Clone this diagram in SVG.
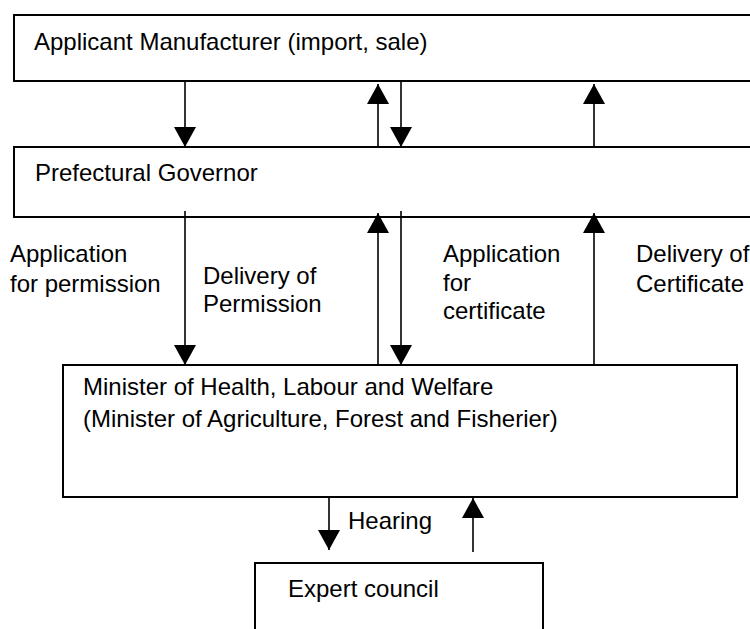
<svg xmlns="http://www.w3.org/2000/svg" width="750" height="629" viewBox="0 0 750 629">
<style>
.box{fill:#fff;stroke:#000;stroke-width:2}
.t{font-family:"Liberation Sans",Arial,sans-serif;font-size:24px;fill:#000}
.c{stroke:#000;stroke-width:1.6;fill:none;marker-end:url(#ah)}
</style>
<defs>
<marker id="ah" viewBox="0 0 20 22" refX="20" refY="11" markerWidth="20" markerHeight="22" markerUnits="userSpaceOnUse" orient="auto">
<path d="M0,0 L20,11 L0,22 z" fill="#000"/>
</marker>
</defs>
<rect width="750" height="629" fill="#fff"/>
<g id="applicant">
<rect class="box" x="14" y="15" width="800" height="66"/>
<text class="t" x="34" y="50">Applicant Manufacturer (import, sale)</text>
</g>
<g id="governor">
<rect class="box" x="14" y="147" width="800" height="70"/>
<text class="t" x="35" y="181">Prefectural Governor</text>
</g>
<g id="minister">
<rect class="box" x="63" y="365" width="674" height="132"/>
<text class="t" x="83" y="395">Minister of Health, Labour and Welfare</text>
<text class="t" x="83" y="427">(Minister of Agriculture, Forest and Fisherier)</text>
</g>
<g id="council">
<rect class="box" x="255" y="563" width="288" height="100"/>
<text class="t" x="288" y="597">Expert council</text>
</g>
<g id="connectors">
<line class="c" x1="185" y1="81" x2="185" y2="147"/>
<line class="c" x1="378" y1="147" x2="378" y2="84"/>
<line class="c" x1="401" y1="81" x2="401" y2="147"/>
<line class="c" x1="594" y1="147" x2="594" y2="84"/>
<line class="c" x1="185" y1="211" x2="185" y2="365"/>
<line class="c" x1="378" y1="365" x2="378" y2="213"/>
<line class="c" x1="401" y1="211" x2="401" y2="365"/>
<line class="c" x1="594" y1="365" x2="594" y2="213"/>
<line class="c" x1="329" y1="497" x2="329" y2="550"/>
<line class="c" x1="473" y1="552" x2="473" y2="498"/>
<text class="t" x="10" y="262">Application</text>
<text class="t" x="10" y="292">for permission</text>
<text class="t" x="203" y="284">Delivery of</text>
<text class="t" x="203" y="312">Permission</text>
<text class="t" x="443" y="262">Application</text>
<text class="t" x="443" y="291">for</text>
<text class="t" x="443" y="319">certificate</text>
<text class="t" x="636" y="262">Delivery of</text>
<text class="t" x="636" y="292">Certificate</text>
<text class="t" x="348" y="529">Hearing</text>
</g>
</svg>
